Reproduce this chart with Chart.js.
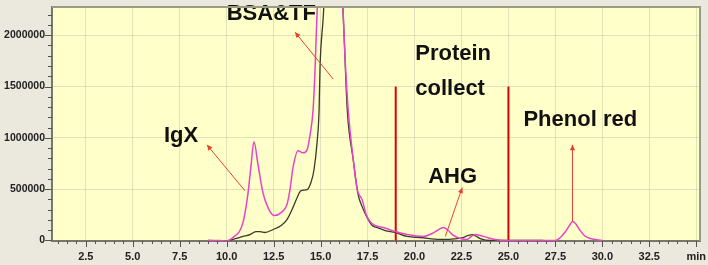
<!DOCTYPE html>
<html>
<head>
<meta charset="utf-8">
<script src="https://cdn.jsdelivr.net/npm/chart.js@4.4.0/dist/chart.umd.min.js"></script>
<style>
    html, body { margin: 0; padding: 0; background: #EBE8DE; }
    #wrap { width: 708px; height: 265px; }
</style>
</head>
<body>
<div id="wrap"><canvas id="myChart" width="708" height="265"></canvas></div>
<script>
// retention time (min) and detector signal for the two runs
const pinkTime = [9.0, 9.6, 10.0, 10.33, 10.87, 11.14, 11.3, 11.45, 11.67, 11.93, 12.2, 12.52, 12.9, 13.21, 13.37, 13.53, 13.8, 14.07, 14.28, 14.44, 14.6, 14.71, 14.81, 14.9, 15.3, 15.7, 16.0, 16.2, 16.31, 16.47, 16.74, 16.95, 17.21, 17.43, 17.64, 17.9, 18.33, 18.97, 19.61, 20.46, 20.94, 21.21, 21.53, 21.8, 22.07, 22.44, 22.8, 23.02, 23.24, 23.5, 23.88, 24.3, 24.83, 27.5, 27.77, 28.04, 28.25, 28.41, 28.57, 28.78, 29.04, 29.36, 30.0];
const pinkSignal = [0, 0, -4000, 29000, 175000, 466000, 738000, 961000, 738000, 466000, 320000, 243000, 272000, 350000, 495000, 709000, 874000, 854000, 883000, 1029000, 1272000, 1689000, 2214000, 2500000, 3200000, 3400000, 3000000, 2214000, 1757000, 1272000, 786000, 495000, 398000, 252000, 184000, 146000, 126000, 87000, 58000, 39000, 68000, 97000, 126000, 97000, 49000, 19000, 10000, 39000, 58000, 49000, 29000, 10000, 0, 0, 29000, 87000, 146000, 184000, 165000, 107000, 49000, 19000, 0];

const blackTime = [9.0, 10.0, 10.33, 10.87, 11.24, 11.55, 11.78, 12.04, 12.47, 12.9, 13.21, 13.48, 13.75, 13.96, 14.28, 14.5, 14.65, 14.81, 14.92, 14.97, 15.13, 15.25, 15.6, 15.9, 16.2, 16.42, 16.74, 17.0, 17.21, 17.48, 17.75, 18.0, 18.44, 18.97, 19.61, 20.3, 21.37, 22.27, 22.59, 22.86, 23.08, 23.3, 23.5, 24.04, 26.86];
const blackSignal = [0, -3000, 10000, 39000, 58000, 87000, 87000, 78000, 107000, 146000, 204000, 301000, 417000, 485000, 495000, 573000, 689000, 951000, 1272000, 1689000, 2146000, 2500000, 3300000, 3100000, 2214000, 1272000, 786000, 446000, 330000, 223000, 146000, 126000, 97000, 78000, 39000, 29000, 10000, 19000, 29000, 49000, 58000, 39000, 19000, 0, 0];

// axis labels
const xTickLabels = ['2.5', '5.0', '7.5', '10.0', '12.5', '15.0', '17.5', '20.0', '22.5', '25.0', '27.5', '30.0', '32.5', 'min'];
const xMajorStep = 2.5;
const xMinorStep = 0.5;
const yTickLabels = ['0', '500000', '1000000', '1500000', '2000000'];
const yMajorStep = 500000;
const yMinorStep = 100000;

// fraction collection window (min)
const collectStart = 19.0;
const collectEnd = 25.0;
const collectTop = 1500000;

// peak labels: text, x (min), y (signal) of the text baseline
const labelText = ['BSA&TF', 'IgX', 'Protein', 'collect', 'Phenol red', 'AHG'];
const labelX = [10.0, 6.66, 20.04, 20.04, 25.8, 20.73];
const labelY = [2146000, 961000, 1757000, 1417000, 1116000, 563000];

// arrows: from (tail) to (head)
const arrowFromX = [10.97, 15.67, 21.64, 28.41];
const arrowFromY = [485000, 1573000, 39000, 184000];
const arrowToX = [8.95, 13.64, 22.54, 28.41];
const arrowToY = [932000, 2029000, 515000, 932000];

function toPoints(xs, ys) {
    return xs.map((x, i) => ({ x: x, y: ys[i] }));
}

// minor tick positions, labelled ones every major step
function xTicks() {
    const out = [];
    const last = xTickLabels.length * xMajorStep;
    for (let i = 2; i * xMinorStep <= last + 1e-9; i++) {
        const v = i * xMinorStep;
        const k = Math.round(v / xMajorStep);
        const major = Math.abs(v - k * xMajorStep) < 1e-9;
        out.push({ value: v, major: major, label: major ? xTickLabels[k - 1] : '' });
    }
    return out;
}

function yTicks() {
    const out = [];
    const last = 22 * yMinorStep;
    for (let v = 0; v <= last; v += yMinorStep) {
        const major = v % yMajorStep === 0;
        out.push({ value: v, major: major, label: major ? yTickLabels[v / yMajorStep] : '' });
    }
    return out;
}

const chromPlugin = {
    id: 'chromPlugin',
    beforeDraw(chart) {
        const { ctx, chartArea } = chart;
        ctx.save();
        ctx.fillStyle = '#EBE8DE';
        ctx.fillRect(0, 0, chart.width, chart.height);
        ctx.fillStyle = '#FFFFCA';
        ctx.fillRect(chartArea.left, chartArea.top, chartArea.right - chartArea.left, chartArea.bottom - chartArea.top);
        ctx.restore();
    },
    afterDatasetsDraw(chart) {
        const { ctx } = chart;
        const xs = chart.scales.x;
        const ys = chart.scales.y;
        ctx.save();
        // arrows
        ctx.strokeStyle = '#E8402E';
        ctx.fillStyle = '#E8402E';
        ctx.lineWidth = 1;
        arrowFromX.forEach((fx, i) => {
            const x1 = xs.getPixelForValue(fx), y1 = ys.getPixelForValue(arrowFromY[i]);
            const x2 = xs.getPixelForValue(arrowToX[i]), y2 = ys.getPixelForValue(arrowToY[i]);
            ctx.beginPath();
            ctx.moveTo(x1, y1);
            ctx.lineTo(x2, y2);
            ctx.stroke();
            const a = Math.atan2(y2 - y1, x2 - x1);
            ctx.beginPath();
            ctx.moveTo(x2, y2);
            ctx.lineTo(x2 - 6 * Math.cos(a - 0.45), y2 - 6 * Math.sin(a - 0.45));
            ctx.lineTo(x2 - 6 * Math.cos(a + 0.45), y2 - 6 * Math.sin(a + 0.45));
            ctx.closePath();
            ctx.fill();
        });
        // labels
        ctx.fillStyle = '#111';
        ctx.font = 'bold 22px "Liberation Sans", Arial, sans-serif';
        ctx.textAlign = 'left';
        ctx.textBaseline = 'alphabetic';
        labelText.forEach((t, i) => {
            ctx.fillText(t, xs.getPixelForValue(labelX[i]), ys.getPixelForValue(labelY[i]));
        });
        ctx.restore();
    },
    afterDraw(chart) {
        const { ctx, chartArea } = chart;
        const xs = chart.scales.x;
        const ys = chart.scales.y;
        ctx.save();
        // frame top and right
        ctx.strokeStyle = '#9A9A86';
        ctx.lineWidth = 2;
        ctx.beginPath();
        ctx.moveTo(chartArea.left, chartArea.top);
        ctx.lineTo(chartArea.right, chartArea.top);
        ctx.lineTo(chartArea.right, chartArea.bottom);
        ctx.stroke();
        // tick marks, long for labelled ones
        ctx.strokeStyle = '#55554A';
        ctx.lineWidth = 1;
        ctx.beginPath();
        xs.ticks.forEach(t => {
            const px = Math.round(xs.getPixelForValue(t.value)) + 0.5;
            ctx.moveTo(px, chartArea.bottom);
            ctx.lineTo(px, chartArea.bottom + (t.major ? 6 : 3));
        });
        ys.ticks.forEach(t => {
            const py = Math.round(ys.getPixelForValue(t.value)) + 0.5;
            ctx.moveTo(chartArea.left, py);
            ctx.lineTo(chartArea.left - (t.major ? 7 : 4), py);
        });
        ctx.stroke();
        ctx.restore();
    }
};

function createChromChart() {
    const ctx = document.getElementById('myChart').getContext('2d');

    new Chart(ctx, {
        type: 'line',
        data: {
            datasets: [
                {
                    label: 'sample',
                    data: toPoints(pinkTime, pinkSignal),
                    borderColor: '#E844C8',
                    borderWidth: 1.5,
                    pointRadius: 0,
                    cubicInterpolationMode: 'monotone'
                },
                {
                    label: 'control',
                    data: toPoints(blackTime, blackSignal),
                    borderColor: '#3A3A2C',
                    borderWidth: 1.3,
                    pointRadius: 0,
                    cubicInterpolationMode: 'monotone'
                },
                {
                    label: 'start',
                    data: toPoints([collectStart, collectStart], [0, collectTop]),
                    borderColor: '#E00000',
                    borderWidth: 2,
                    pointRadius: 0
                },
                {
                    label: 'end',
                    data: toPoints([collectEnd, collectEnd], [0, collectTop]),
                    borderColor: '#E00000',
                    borderWidth: 2,
                    pointRadius: 0
                }
            ]
        },
        options: {
            responsive: false,
            animation: false,
            layout: { padding: { top: 7, right: 8, left: 0, bottom: 0 } },
            plugins: {
                legend: { display: false },
                tooltip: { enabled: false }
            },
            scales: {
                x: {
                    type: 'linear',
                    min: 0.7,
                    max: 35.2,
                    afterBuildTicks: s => { s.ticks = xTicks(); },
                    afterFit: s => { s.height = 24; s.paddingLeft = 0; s.paddingRight = 0; },
                    border: { color: '#77776A', width: 2 },
                    grid: {
                        drawTicks: false,
                        color: c => (c.tick && c.tick.major) ? 'rgba(160,160,140,0.3)' : 'transparent'
                    },
                    ticks: {
                        autoSkip: false,
                        maxRotation: 0,
                        padding: 9,
                        color: '#222',
                        font: { family: '"Liberation Sans", Arial, sans-serif', size: 11, weight: 'bold' },
                        callback: (v, i, ticks) => ticks[i].label
                    }
                },
                y: {
                    min: -5000,
                    max: 2275000,
                    afterBuildTicks: s => { s.ticks = yTicks(); },
                    afterFit: s => { s.width = 52; s.paddingTop = 0; s.paddingBottom = 0; },
                    border: { color: '#77776A', width: 2 },
                    grid: {
                        drawTicks: false,
                        color: c => (c.tick && c.tick.major && c.tick.value > 0) ? 'rgba(160,160,140,0.3)' : 'transparent'
                    },
                    ticks: {
                        autoSkip: false,
                        padding: 7,
                        color: '#222',
                        font: { family: '"Liberation Sans", Arial, sans-serif', size: 10.5, weight: 'bold' },
                        callback: (v, i, ticks) => ticks[i].label
                    }
                }
            }
        },
        plugins: [chromPlugin]
    });
}

document.addEventListener('DOMContentLoaded', createChromChart);
</script>
</body>
</html>
